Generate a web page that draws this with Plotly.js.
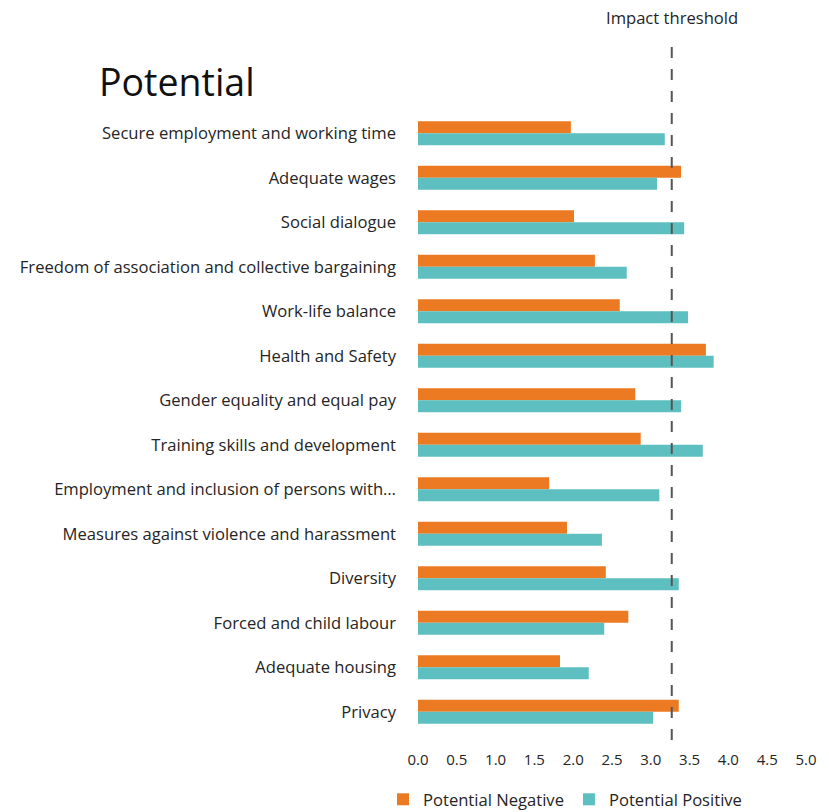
<!DOCTYPE html>
<html>
<head>
<meta charset="utf-8">
<script src="https://cdn.plot.ly/plotly-3.0.1.min.js"></script>
<style>html,body{margin:0;padding:0;background:#fff;}#chart{width:829px;height:812px;}</style>
</head>
<body>
<div id="chart"></div>
<script>
const categories = [
  "Secure employment and working time",
  "Adequate wages",
  "Social dialogue",
  "Freedom of association and collective bargaining",
  "Work-life balance",
  "Health and Safety",
  "Gender equality and equal pay",
  "Training skills and development",
  "Employment and inclusion of persons with\u2026",
  "Measures against violence and harassment",
  "Diversity",
  "Forced and child labour",
  "Adequate housing",
  "Privacy"
];
const potentialNegative = [1.97, 3.39, 2.01, 2.28, 2.60, 3.71, 2.80, 2.87, 1.69, 1.92, 2.42, 2.71, 1.83, 3.36];
const potentialPositive = [3.18, 3.08, 3.43, 2.69, 3.48, 3.81, 3.39, 3.67, 3.11, 2.37, 3.36, 2.40, 2.20, 3.03];
const xTicks = [0, 0.5, 1, 1.5, 2, 2.5, 3, 3.5, 4, 4.5, 5];
const xTickLabels = ["0.0","0.5","1.0","1.5","2.0","2.5","3.0","3.5","4.0","4.5","5.0"];
const impactThreshold = 3.27;
const seriesNames = ["Potential Negative", "Potential Positive"];

const FONT = "'Open Sans', 'Noto Sans', sans-serif";
const TXT = "#252525";

const traces = [
  {type: "bar", orientation: "h", name: seriesNames[0], y: categories, x: potentialNegative,
   marker: {color: "#EC7A22"}, hoverinfo: "x+y"},
  {type: "bar", orientation: "h", name: seriesNames[1], y: categories, x: potentialPositive,
   marker: {color: "#5DBFBF"}, hoverinfo: "x+y"}
];

const plotTop = 111, plotBottom = 734, H = 812;
const ph = plotBottom - plotTop;
const pyPaper = p => (plotBottom - p) / ph;

const layout = {
  width: 829, height: 812,
  paper_bgcolor: "#fff", plot_bgcolor: "#fff",
  margin: {l: 418, r: 23, t: plotTop, b: H - plotBottom, pad: 0, autoexpand: false},
  font: {family: FONT, color: TXT, size: 16.6},
  title: {text: "Potential", x: 99/829, xanchor: "left", xref: "container",
          y: 1 - 83/812, yanchor: "middle", yref: "container",
          font: {family: FONT, size: 37.5, color: "#111"}},
  barmode: "group", bargap: 0.46, bargroupgap: 0,
  xaxis: {range: [0, 5], tickvals: xTicks, ticktext: xTickLabels, showgrid: false,
          zeroline: false, showline: false, ticks: "", ticklabelstandoff: 15,
          tickfont: {family: FONT, size: 15, color: TXT}, fixedrange: true, automargin: false},
  yaxis: {type: "category", autorange: "reversed", showgrid: false, zeroline: false,
          showline: false, ticks: "", ticklabelstandoff: 21, automargin: false,
          tickfont: {family: FONT, size: 16.6, color: TXT}, fixedrange: true},
  shapes: [{type: "line", xref: "x", yref: "paper", x0: impactThreshold, x1: impactThreshold,
            y0: pyPaper(740), y1: pyPaper(37),
            line: {color: "#555", width: 2, dash: "11px,11px"}}],
  annotations: [{xref: "x", yref: "paper", x: impactThreshold, y: pyPaper(17),
                 text: "Impact threshold", showarrow: false, xanchor: "center", yanchor: "middle",
                 font: {family: FONT, size: 16.6, color: TXT}}],
  showlegend: true,
  legend: {orientation: "h", x: (383 - 418) / 388, xanchor: "left", y: pyPaper(782), yanchor: "top",
           font: {family: FONT, size: 16.6, color: TXT}, itemwidth: 30, traceorder: "normal"}
};

Plotly.newPlot("chart", traces, layout, {displayModeBar: false});
</script>
</body>
</html>
